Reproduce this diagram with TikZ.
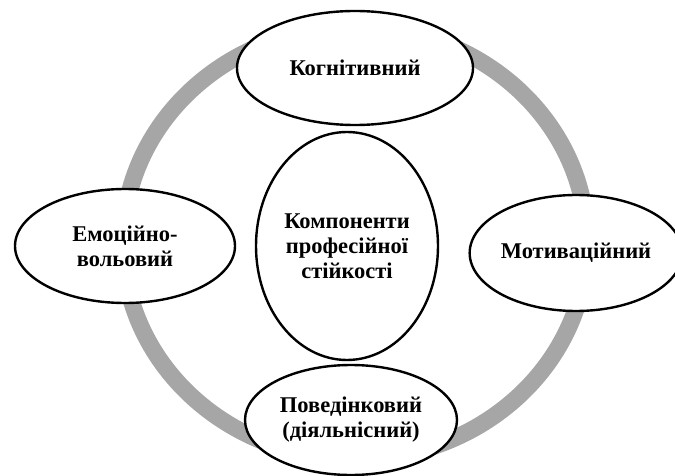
\documentclass[tikz,border=0pt]{standalone}
\usepackage{fontspec}
\setmainfont{Liberation Serif}
\usetikzlibrary{shapes.geometric}

\definecolor{ringgray}{HTML}{A6A6A6}

\begin{document}
\begin{tikzpicture}[x=1pt,y=-1pt,
    ring/.style={draw=ringgray, line width=17pt},
    comp/.style={ellipse, draw, line width=2.4pt, fill=white, inner sep=0pt,
        align=center, font=\fontsize{22.5}{25}\selectfont\bfseries}]
    \useasboundingbox (0,0) rectangle (675,476);
    \coordinate (O) at (355,243);
    \draw[ring] (O) ellipse [x radius=232pt, y radius=216pt];

    % outer components
    \node[comp, minimum width=236pt, minimum height=114pt] (kog) at (355,68) {Когнітивний};
    \node[comp, minimum width=220pt, minimum height=114pt] (emo) at (125,246) {Емоційно-\\вольовий};
    \node[comp, minimum width=198pt, minimum height=116pt] (mot) at (576,253) {Мотиваційний};
    \node[comp, minimum width=212pt, minimum height=110pt] (pov) at (351,420) {Поведінковий\\(діяльнісний)};

    % centre
    \node[comp, minimum width=182pt, minimum height=228pt] (cen) at (347,246) {Компоненти\\професійної\\стійкості};
\end{tikzpicture}
\end{document}
